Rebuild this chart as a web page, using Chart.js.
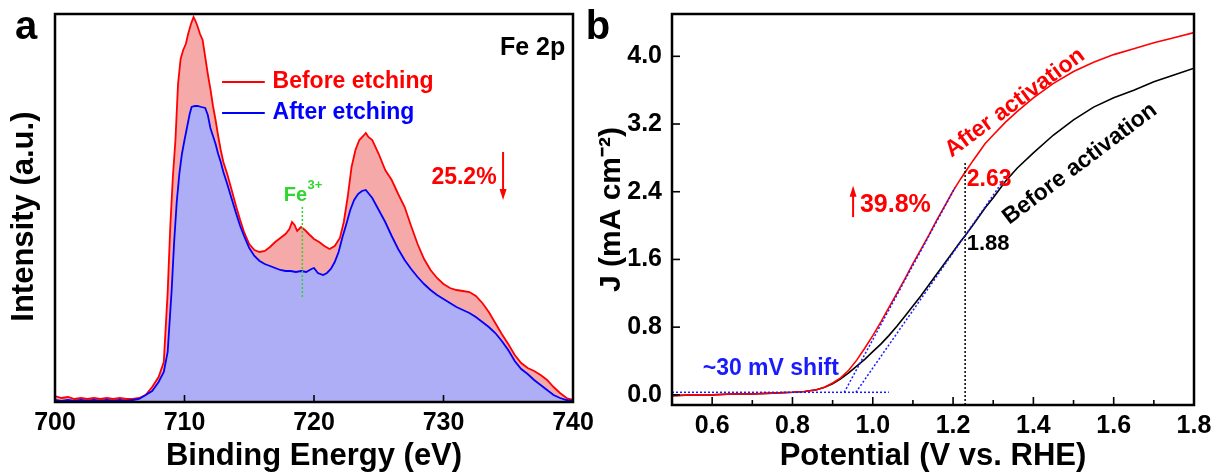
<!DOCTYPE html>
<html><head><meta charset="utf-8">
<script src="https://cdn.jsdelivr.net/npm/chart.js@4/dist/chart.umd.min.js"></script>
<style>
html,body{margin:0;padding:0;background:#fff;width:1217px;height:475px;overflow:hidden;position:relative}
#ca{position:absolute;left:0;top:0}
#cb{position:absolute;left:580px;top:0}
</style></head><body>
<canvas id="ca" width="600" height="475"></canvas>
<canvas id="cb" width="637" height="475"></canvas>
<script>
// ---------- Panel a: XPS Fe 2p ----------
const energyBefore = [700,700.5,701,701.5,702,702.5,703,703.5,704,704.5,705,705.5,706,706.5,707,707.5,708,708.4,708.7,708.9,709.1,709.3,709.5,709.7,709.9,710.1,710.3,710.5,710.7,710.85,711,711.2,711.4,711.6,711.8,712,712.2,712.4,712.6,712.8,713,713.3,713.6,714,714.3,714.6,715,715.4,715.8,716.2,716.6,717,717.4,717.8,718.1,718.3,718.5,718.7,719,719.3,719.6,720,720.4,720.8,721.2,721.6,722,722.3,722.6,722.9,723.2,723.5,723.8,724,724.2,724.5,725,725.5,726,726.5,727,727.5,728,728.5,729,729.5,730,730.5,731,731.5,732,732.5,733,733.5,734,734.5,735,735.5,736,736.5,737,737.5,738,738.5,739,739.5,740];
const intensityBefore = [6,4,5,3,4,3,4,3,4,3,4,3,3,4,7,15,25,40,110,175,225,262,318,343,352,358,369,378,385,381,376,368,362,345,328,313,296,282,266,252,240,228,214,195,182,170,158,152,150,151,155,160,164,168,173,180,177,171,175,172,168,163,160,156,153,156,164,180,205,235,252,262,266,269,265,262,248,232,222,208,195,176,158,143,132,124,118,114,112,111,110,106,99,90,79,68,58,47,39,34,31,27,22,15,9,4,2];
const energyAfter = [700,700.5,701,701.5,702,702.5,703,703.5,704,704.5,705,705.5,706,706.5,707,707.5,708,708.4,708.7,709,709.2,709.4,709.6,709.8,710,710.2,710.4,710.55,710.8,711,711.3,711.6,711.8,712,712.2,712.4,712.6,712.8,713,713.3,713.6,714,714.3,714.6,715,715.4,715.8,716.2,716.6,717,717.4,717.8,718.2,718.6,719,719.4,719.8,720,720.3,720.7,721,721.3,721.6,721.9,722.2,722.5,722.8,723.1,723.4,723.7,724,724.5,725,725.5,726,726.5,727,727.5,728,728.5,729,729.5,730,730.5,731,731.5,732,732.5,733,733.5,734,734.5,735,735.5,736,736.5,737,737.5,738,738.5,739,739.5,740];
const intensityAfter = [2,1,2,1,2,1,2,1,2,1,2,1,2,3,7,11,20,30,50,110,160,200,228,248,262,275,288,295,296,296,295,294,287,274,266,258,248,240,230,218,205,188,176,166,154,146,141,138,136,134,132,131,131,130,131,130,133,134,129,127,129,133,140,150,165,178,192,202,208,211,212,204,192,180,166,153,142,133,125,118,112,107,103,99,95,92,89,85,80,75,69,61,52,41,33,28,22,17,12,7,4,2,1];
const fe3Energy = [719.1, 719.1];
const fe3Intensity = [105, 195];
const energyTicks = [700, 710, 720, 730, 740];

// ---------- Panel b: LSV ----------
const potential = [0.50,0.55,0.60,0.65,0.70,0.75,0.80,0.83,0.86,0.88,0.90,0.92,0.94,0.96,0.98,1.00,1.02,1.04,1.06,1.08,1.10,1.12,1.14,1.16,1.18,1.20,1.22,1.23,1.25,1.28,1.30,1.33,1.36,1.40,1.45,1.50,1.55,1.60,1.65,1.70,1.75,1.80];
const jAfter  = [-0.01,0.00,0.00,0.01,0.01,0.02,0.03,0.04,0.06,0.09,0.14,0.20,0.29,0.41,0.55,0.70,0.86,1.03,1.20,1.37,1.55,1.72,1.89,2.07,2.24,2.41,2.56,2.63,2.77,2.97,3.07,3.22,3.35,3.51,3.68,3.82,3.93,4.02,4.09,4.16,4.22,4.28];
const jBefore = [-0.01,0.00,0.00,0.01,0.01,0.02,0.03,0.04,0.06,0.09,0.13,0.19,0.26,0.34,0.42,0.51,0.60,0.70,0.81,0.93,1.05,1.17,1.30,1.43,1.56,1.69,1.82,1.88,2.01,2.21,2.33,2.52,2.68,2.86,3.07,3.25,3.40,3.51,3.60,3.70,3.78,3.86];
const baseV = [0.50, 1.04], baseJ = [0.03, 0.03];
const tanAfterV = [0.929, 1.205], tanAfterJ = [0.03, 2.45];
const tanBeforeV = [0.958, 1.325], tanBeforeJ = [0.03, 2.53];
const markV = [1.23, 1.23], markJ = [-0.12, 2.75];
const potentialTicks = [0.6, 0.8, 1.0, 1.2, 1.4, 1.6, 1.8];
const potentialMinor = [0.5, 0.7, 0.9, 1.1, 1.3, 1.5, 1.7];
const currentTicks = [0.0, 0.8, 1.6, 2.4, 3.2, 4.0];

const FONT = "'Liberation Sans', Arial, Helvetica, sans-serif";
Chart.defaults.font.family = FONT;
Chart.defaults.color = '#000';
const pts = (xs, ys) => xs.map((v, i) => ({x: v, y: ys[i]}));

const deco = {
  id: 'deco',
  afterDatasetsDraw(chart, args, o) {
    const {ctx, chartArea: a, scales: {x, y}} = chart;
    ctx.save();
    const seg = (x1, y1, x2, y2) => { ctx.beginPath(); ctx.moveTo(x1, y1); ctx.lineTo(x2, y2); ctx.stroke(); };
    ctx.strokeStyle = '#000'; ctx.lineWidth = 1.6;
    (o.xTicks || []).forEach(t => { const px = x.getPixelForValue(t.v); seg(px, a.bottom, px, a.bottom - t.len); });
    (o.yTicks || []).forEach(t => { const py = y.getPixelForValue(t.v); seg(a.left, py, a.left + t.len, py); });
    ctx.lineWidth = 2.5;
    ctx.strokeRect(a.left, a.top, a.right - a.left, a.bottom - a.top);
    (o.keys || []).forEach(k => {
      ctx.strokeStyle = k.color; ctx.lineWidth = 2;
      seg(x.getPixelForValue(k.x1), y.getPixelForValue(k.y), x.getPixelForValue(k.x2), y.getPixelForValue(k.y));
    });
    (o.arrows || []).forEach(r => {
      const px = x.getPixelForValue(r.x), p1 = y.getPixelForValue(r.from), p2 = y.getPixelForValue(r.to);
      const dir = p2 > p1 ? 1 : -1;
      ctx.strokeStyle = r.color; ctx.fillStyle = r.color; ctx.lineWidth = 2;
      seg(px, p1, px, p2 - dir * 8);
      ctx.beginPath(); ctx.moveTo(px, p2); ctx.lineTo(px - 3.5, p2 - dir * 11); ctx.lineTo(px + 3.5, p2 - dir * 11); ctx.closePath(); ctx.fill();
    });
    (o.texts || []).forEach(t => {
      const px = t.px !== undefined ? t.px : x.getPixelForValue(t.x);
      const py = t.py !== undefined ? t.py : y.getPixelForValue(t.y);
      ctx.save();
      ctx.translate(px, py);
      if (t.rot) ctx.rotate(t.rot * Math.PI / 180);
      ctx.font = 'bold ' + t.size + 'px ' + FONT;
      ctx.fillStyle = t.color || '#000';
      ctx.textAlign = t.align || 'center';
      ctx.textBaseline = t.base || 'middle';
      ctx.fillText(t.text, 0, 0);
      ctx.restore();
    });
    ctx.restore();
  }
};

const tickFont = {size: 25, weight: 'bold'};
const titleFont = {size: 31, weight: 'bold'};

new Chart(document.getElementById('ca'), {
  type: 'line',
  data: {datasets: [
    {label: 'Fe3+', data: pts(fe3Energy, fe3Intensity), borderColor: '#2ed62e', borderWidth: 1.5, borderDash: [2, 2], pointRadius: 0, fill: false},
    {label: 'After etching', data: pts(energyAfter, intensityAfter), borderColor: '#0000ff', backgroundColor: '#aeaef7', borderWidth: 1.8, pointRadius: 0, tension: 0, fill: 'origin'},
    {label: 'Before etching', data: pts(energyBefore, intensityBefore), borderColor: '#ff0000', backgroundColor: '#f6a9a9', borderWidth: 1.8, pointRadius: 0, tension: 0, fill: 'origin'}
  ]},
  options: {
    responsive: false, animation: false, devicePixelRatio: 1,
    layout: {padding: {left: 0, top: 14, right: 27, bottom: 0}},
    plugins: {
      legend: {display: false}, tooltip: {enabled: false},
      filler: {drawTime: 'beforeDatasetsDraw'},
      deco: {
        xTicks: energyTicks.map(v => ({v, len: 7})),
        keys: [{x1: 712.9, x2: 716.2, y: 320, color: '#ff0000'}, {x1: 712.9, x2: 716.2, y: 289, color: '#0000ff'}],
        arrows: [{x: 734.6, from: 250, to: 202, color: '#ff0000'}],
        texts: [
          {text: 'Fe 2p', x: 739.4, y: 354, size: 25, align: 'right'},
          {text: 'Before etching', x: 716.8, y: 320, size: 23, align: 'left', color: '#ff0000'},
          {text: 'After etching', x: 716.8, y: 289, size: 23, align: 'left', color: '#0000ff'},
          {text: '25.2%', x: 734.1, y: 224, size: 23, align: 'right', color: '#ff0000'},
          {text: 'Fe', x: 719.46, y: 201, size: 20, align: 'right', base: 'alphabetic', color: '#2ed62e'},
          {text: '3+', x: 719.5, y: 213, size: 13, align: 'left', base: 'alphabetic', color: '#2ed62e'},
          {text: 'a', px: 26, py: 28, size: 40}
        ]
      }
    },
    scales: {
      x: {
        type: 'linear', min: 700, max: 740,
        afterBuildTicks: s => { s.ticks = energyTicks.map(v => ({value: v})); },
        afterFit: s => { s.height = 73; s.paddingLeft = 0; s.paddingRight = 0; },
        grid: {display: false, drawTicks: false}, border: {display: false},
        ticks: {font: tickFont, color: '#000', padding: 6, maxRotation: 0, autoSkip: false, callback: v => String(v)},
        title: {display: true, text: 'Binding Energy (eV)', font: titleFont, color: '#000', padding: {top: 0, bottom: 0}}
      },
      y: {
        type: 'linear', min: 0, max: 388,
        afterFit: s => { s.width = 55; s.paddingTop = 0; s.paddingBottom = 0; },
        grid: {display: false, drawTicks: false}, border: {display: false},
        ticks: {display: false},
        title: {display: true, text: 'Intensity (a.u.)\u00A0\u00A0', font: titleFont, color: '#000', padding: {top: 6, bottom: 0}}
      }
    }
  },
  plugins: [deco]
});

new Chart(document.getElementById('cb'), {
  type: 'line',
  data: {datasets: [
    {label: 'baseline', data: pts(baseV, baseJ), borderColor: '#1a1aff', borderWidth: 1.5, borderDash: [2, 2], pointRadius: 0, fill: false},
    {label: 'tangent after', data: pts(tanAfterV, tanAfterJ), borderColor: '#1a1aff', borderWidth: 1.5, borderDash: [2, 2], pointRadius: 0, fill: false},
    {label: 'tangent before', data: pts(tanBeforeV, tanBeforeJ), borderColor: '#1a1aff', borderWidth: 1.5, borderDash: [2, 2], pointRadius: 0, fill: false},
    {label: '1.23 V', data: pts(markV, markJ), borderColor: '#000', borderWidth: 1.5, borderDash: [2, 2], pointRadius: 0, fill: false},
    {label: 'After activation', data: pts(potential, jAfter), borderColor: '#ff0000', borderWidth: 1.6, pointRadius: 0, tension: 0, fill: false},
    {label: 'Before activation', data: pts(potential, jBefore), borderColor: '#000', borderWidth: 1.6, pointRadius: 0, tension: 0, fill: false}
  ]},
  options: {
    responsive: false, animation: false, devicePixelRatio: 1,
    layout: {padding: {left: 0, top: 14, right: 23, bottom: 0}},
    plugins: {
      legend: {display: false}, tooltip: {enabled: false},
      deco: {
        xTicks: potentialTicks.map(v => ({v, len: 8})).concat(potentialMinor.map(v => ({v, len: 5}))),
        yTicks: currentTicks.map(v => ({v, len: 8})),
        arrows: [{x: 0.951, from: 2.10, to: 2.47, color: '#ff0000'}],
        texts: [
          {text: 'After activation', x: 1.354, y: 3.45, size: 23, rot: -36.5, color: '#ff0000'},
          {text: 'Before activation', x: 1.516, y: 2.73, size: 23, rot: -37},
          {text: '2.63', x: 1.234, y: 2.54, size: 23, align: 'left', color: '#ff0000'},
          {text: '1.88', x: 1.234, y: 1.78, size: 22, align: 'left'},
          {text: '39.8%', x: 0.968, y: 2.24, size: 25, align: 'left', color: '#ff0000'},
          {text: '~30 mV shift', x: 0.746, y: 0.305, size: 23, color: '#1a1aff'},
          {text: 'b', px: 18, py: 28, size: 40}
        ]
      }
    },
    scales: {
      x: {
        type: 'linear', min: 0.5, max: 1.8,
        afterBuildTicks: s => { s.ticks = potentialTicks.map(v => ({value: v})); },
        afterFit: s => { s.height = 70; s.paddingLeft = 0; s.paddingRight = 0; },
        grid: {display: false, drawTicks: false}, border: {display: false},
        ticks: {font: tickFont, color: '#000', padding: 6, maxRotation: 0, autoSkip: false, callback: v => v.toFixed(1)},
        title: {display: true, text: 'Potential (V vs. RHE)', font: titleFont, color: '#000', padding: {top: 0, bottom: 0}}
      },
      y: {
        type: 'linear', min: -0.12, max: 4.5,
        afterBuildTicks: s => { s.ticks = currentTicks.map(v => ({value: v})); },
        afterFit: s => { s.width = 92; s.paddingTop = 0; s.paddingBottom = 0; },
        grid: {display: false, drawTicks: false}, border: {display: false},
        ticks: {font: tickFont, color: '#000', padding: 10, autoSkip: false, callback: v => v.toFixed(1)},
        title: {display: true, text: 'J (mA cm\u207B\u00B2)', font: {size: 30, weight: 'bold'}, color: '#000', padding: {top: 14, bottom: 0}}
      }
    }
  },
  plugins: [deco]
});
</script>
</body></html>
